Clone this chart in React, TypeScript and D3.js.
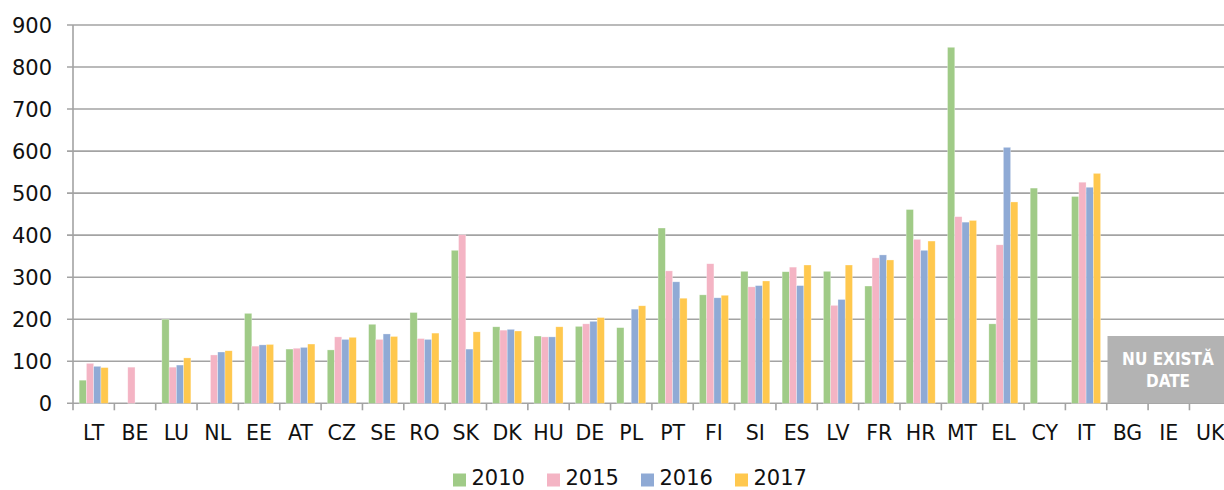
import React from "react";
import * as d3 from "d3";

const categories = ["LT","BE","LU","NL","EE","AT","CZ","SE","RO","SK","DK","HU","DE","PL","PT","FI","SI","ES","LV","FR","HR","MT","EL","CY","IT","BG","IE","UK"];
const seriesNames = ["2010","2015","2016","2017"];
const v2010 = [55,null,200,null,214,129,127,188,216,364,182,160,183,180,417,258,314,313,314,279,461,847,189,512,492,null,null,null];
const v2015 = [95,86,86,115,136,131,158,152,154,401,174,158,189,null,315,332,277,324,233,346,390,444,377,null,526,null,null,null];
const v2016 = [88,null,91,122,139,133,152,165,152,129,176,158,195,224,289,251,280,280,247,353,364,431,609,null,514,null,null,null];
const v2017 = [85,null,108,125,140,141,157,159,167,170,172,182,204,232,250,257,291,329,329,341,386,435,479,null,547,null,null,null];
const yTicks = [0,100,200,300,400,500,600,700,800,900];
const colors = ["#a0cb87","#f4b4c4","#8faad5","#ffc84e"];
const noDataLines = ["NU EXISTĂ","DATE"];

const W = 1224, H = 490;
const left = 73, top = 25, bottom = 403.3;
const right = left + 28 * 41.35;
const font = "'DejaVu Sans', sans-serif";

export default function App() {
  const series = [v2010, v2015, v2016, v2017];
  const x = d3.scaleBand().domain(categories).range([left, right]).paddingInner(0).paddingOuter(0);
  const x1 = d3.scaleBand().domain(seriesNames).range([0, x.bandwidth()]).paddingInner(0).paddingOuter(0.85);
  const y = d3.scaleLinear().domain([0, 900]).range([bottom, top]);

  return (
    <svg width={W} height={H} style={{ position: "absolute", left: 0, top: 0, display: "block" }}>
      <rect x={0} y={0} width={W} height={H} fill="#fff" />
      {yTicks.map(t => (
        <g key={t}>
          <line x1={left - 6} x2={right} y1={y(t)} y2={y(t)} stroke="#a3a3a3" strokeWidth={1.6} />
          <text x={52} y={y(t)} dy="0.36em" textAnchor="end" fontFamily={font} fontSize={21} fill="#111">{t}</text>
        </g>
      ))}
      <line x1={left} x2={left} y1={top} y2={bottom + 7} stroke="#a3a3a3" strokeWidth={1.6} />
      {categories.map((c) => (
        <line key={"t" + c} x1={x(c)! + x.bandwidth()} x2={x(c)! + x.bandwidth()} y1={bottom} y2={bottom + 7} stroke="#a3a3a3" strokeWidth={1.6} />
      ))}
      {series.map((vals, si) => (
        <g key={si}>
          {vals.map((v, i) => v == null ? null : (
            <rect key={i}
              x={x(categories[i])! + x1(seriesNames[si])!}
              y={y(v)}
              width={x1.bandwidth()}
              height={y(0) - y(v)}
              fill={colors[si]}
              stroke="#fff" strokeOpacity={0.5} strokeWidth={0.6} />
          ))}
        </g>
      ))}
      {categories.map(c => (
        <text key={"l" + c} x={x(c)! + x.bandwidth() / 2} y={440} textAnchor="middle" fontFamily={font} fontSize={20.5} fill="#111">{c}</text>
      ))}
      <rect x={1107.5} y={336} width={W - 1107.5} height={bottom - 336} fill="#b3b3b3" />
      {noDataLines.map((t, i) => (
        <text key={t} x={1168} y={365 + i * 22} textAnchor="middle" fontFamily="'DejaVu Sans Condensed', 'DejaVu Sans', sans-serif" fontWeight="bold" fontSize={17} fill="#fff">{t}</text>
      ))}
      {seriesNames.map((s, i) => (
        <g key={"lg" + s} transform={`translate(${453 + i * 94},0)`}>
          <rect x={0} y={473.5} width={13} height={13} fill={colors[i]} />
          <text x={18.5} y={485} fontFamily={font} fontSize={21} fill="#111">{s}</text>
        </g>
      ))}
    </svg>
  );
}
